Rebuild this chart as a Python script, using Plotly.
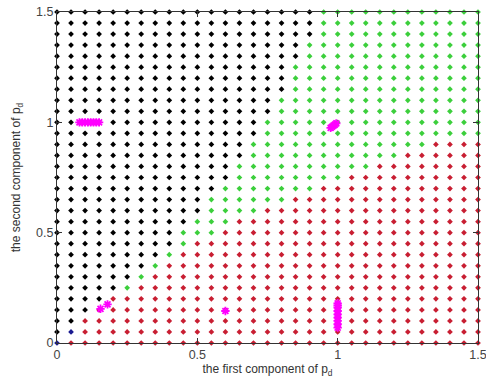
import plotly.graph_objects as go

# grid of sampled points (both axes)
grid = [0.0, 0.05, 0.1, 0.15, 0.2, 0.25, 0.3, 0.35, 0.4, 0.45, 0.5, 0.55, 0.6, 0.65,
        0.7, 0.75, 0.8, 0.85, 0.9, 0.95, 1.0, 1.05, 1.1, 1.15, 1.2, 1.25, 1.3, 1.35,
        1.4, 1.45, 1.5]

# per row (y = grid[j]): last column index that is black, last column index that is green
black_last = [-1, 0, 1, 2, 3, 4, 5, 6, 7, 8, 8, 9, 10, 10, 11, 12, 12, 13, 13, 14, 14,
              15, 15, 16, 16, 16, 17, 17, 18, 18, 18]
green_last = [-1, 0, 1, 2, 3, 5, 6, 7, 8, 9, 11, 12, 14, 16, 18, 20, 22, 24, 26, 30, 30,
              30, 30, 30, 30, 30, 30, 30, 30, 30, 30]

# special points
blue_x = [0.0, 0.05]
blue_y = [0.0, 0.05]

# magenta asterisk clusters
mag_x = [0.08, 0.09, 0.10, 0.11, 0.12, 0.13, 0.14, 0.15,
         0.975, 0.98, 0.985, 0.99, 0.995,
         1.0, 1.0, 1.0, 1.0, 1.0, 1.0, 1.0, 1.0, 1.0,
         0.60,
         0.155, 0.18]
mag_y = [1.0, 1.0, 1.0, 1.0, 1.0, 1.0, 1.0, 1.0,
         0.975, 0.98, 0.985, 0.99, 0.995,
         0.07, 0.085, 0.10, 0.115, 0.13, 0.145, 0.16, 0.17, 0.18,
         0.145,
         0.155, 0.175]

bx, by, gx, gy, rx, ry = [], [], [], [], [], []
for j, yv in enumerate(grid):
    for i, xv in enumerate(grid):
        if (xv, yv) in zip(blue_x, blue_y):
            continue
        if i <= black_last[j]:
            bx.append(xv); by.append(yv)
        elif i <= green_last[j]:
            gx.append(xv); gy.append(yv)
        else:
            rx.append(xv); ry.append(yv)

fig = go.Figure()
mk = dict(size=4.4, symbol="diamond")
fig.add_trace(go.Scatter(x=bx, y=by, mode="markers", marker=dict(color="#000000", **mk), cliponaxis=False))
fig.add_trace(go.Scatter(x=gx, y=gy, mode="markers", marker=dict(color="#3ccf3c", **mk), cliponaxis=False))
fig.add_trace(go.Scatter(x=rx, y=ry, mode="markers", marker=dict(color="#c81e32", **mk), cliponaxis=False))
fig.add_trace(go.Scatter(x=blue_x, y=blue_y, mode="markers", marker=dict(color="#1a1a90", **mk), cliponaxis=False))
fig.add_trace(go.Scatter(x=mag_x, y=mag_y, mode="markers",
                         marker=dict(color="#ff00ff", size=7, symbol="asterisk-open",
                                     line=dict(color="#ff00ff", width=1.8)),
                         cliponaxis=False))

axis_common = dict(range=[0, 1.5], tickvals=[0, 0.5, 1, 1.5], ticktext=["0", "0.5", "1", "1.5"],
                   showgrid=False, zeroline=False, showline=True, mirror="ticks",
                   linecolor="#333333", linewidth=1.2, ticks="inside", ticklen=5,
                   tickcolor="#333333", automargin=False, ticklabeloverflow="allow",
                   tickfont=dict(family="Liberation Sans", size=12.5, color="#444444"))

fig.update_layout(
    width=486, height=385,
    margin=dict(l=57, r=8, t=12, b=42),
    paper_bgcolor="white", plot_bgcolor="white",
    showlegend=False,
    xaxis=dict(**axis_common,
               title=dict(text="the first component of p<sub>d</sub>",
                          font=dict(family="Liberation Sans", size=12, color="#333333"), standoff=3)),
    yaxis=dict(**axis_common,
               title=dict(text="the second component of p<sub>d</sub>",
                          font=dict(family="Liberation Sans", size=12, color="#333333"), standoff=12)),
)

fig.write_html("out.html", config={"displayModeBar": False},
               post_script="document.body.style.margin='0';")
